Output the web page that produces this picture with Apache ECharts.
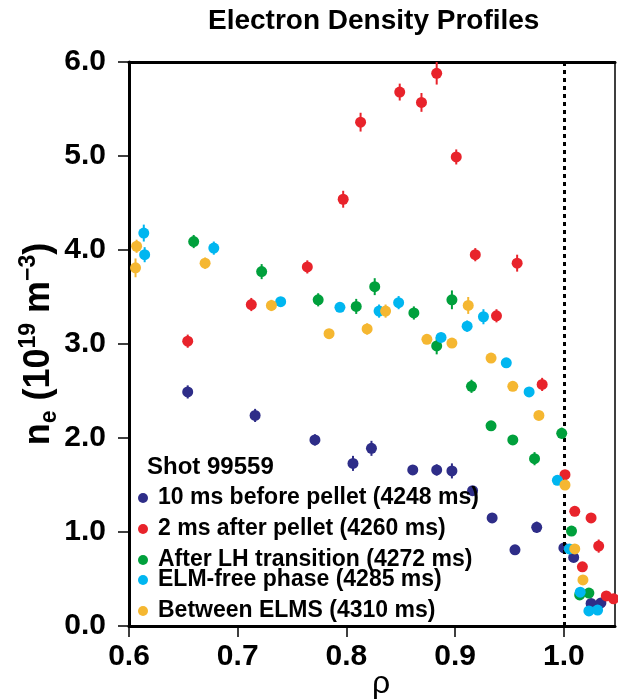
<!DOCTYPE html>
<html>
<head>
<meta charset="utf-8">
<script src="https://cdn.jsdelivr.net/npm/echarts@6/dist/echarts.min.js"></script>
<style>
html,body{margin:0;padding:0;background:#fff;overflow:hidden;}
#chart{width:618px;height:699px;}
</style>
</head>
<body>
<div id="chart"></div>
<script>
// ---- data ----
const titleText = 'Electron Density Profiles';
const shotLabel = 'Shot 99559';
const seriesNames = [
  '10 ms before pellet (4248 ms)',
  '2 ms after pellet (4260 ms)',
  'After LH transition (4272 ms)',
  'ELM-free phase (4285 ms)',
  'Between ELMS (4310 ms)'
];
const rhoTicks = [0.6, 0.7, 0.8, 0.9, 1.0];
const neTicks = [0, 1, 2, 3, 4, 5, 6];
const separatrixRho = 1.0;

// [rho, n_e, error]
const before4248 = [[0.654,2.49,0.07],[0.716,2.24,0.07],[0.771,1.98,0.06],[0.806,1.73,0.08],[0.823,1.89,0.08],[0.861,1.66,0.05],[0.883,1.66,0.06],[0.897,1.65,0.08],[0.916,1.44,0.04],[0.934,1.15,0.04],[0.955,0.81,0.04],[0.975,1.05,0.06],[1.000,0.83,0.04],[1.009,0.73,0.04],[1.025,0.24,0.04],[1.034,0.245,0.04]];
const after4260 = [[0.654,3.03,0.07],[0.7125,3.42,0.07],[0.764,3.82,0.07],[0.797,4.54,0.09],[0.813,5.36,0.1],[0.849,5.68,0.09],[0.869,5.57,0.1],[0.883,5.88,0.12],[0.901,4.99,0.08],[0.9185,3.95,0.07],[0.938,3.30,0.07],[0.957,3.86,0.09],[0.980,2.57,0.07],[1.001,1.61,0.05],[1.010,1.22,0.04],[1.025,1.15,0.04],[1.032,0.85,0.07],[1.017,0.63,0.04],[1.039,0.32,0.04],[1.0457,0.29,0.04]];
const lhTransition = [[0.6595,4.09,0.07],[0.722,3.77,0.08],[0.774,3.47,0.07],[0.809,3.40,0.08],[0.826,3.61,0.09],[0.862,3.33,0.07],[0.883,2.98,0.09],[0.897,3.47,0.1],[0.915,2.55,0.07],[0.933,2.13,0.05],[0.953,1.98,0.05],[0.973,1.78,0.07],[0.998,2.05,0.06],[1.007,1.01,0.04],[1.0145,0.33,0.03],[1.023,0.35,0.03]];
const elmFree = [[0.6136,4.18,0.09],[0.6144,3.95,0.08],[0.678,4.02,0.07],[0.7395,3.45,0.05],[0.794,3.39,0.05],[0.830,3.35,0.07],[0.848,3.44,0.07],[0.887,3.07,0.05],[0.911,3.19,0.06],[0.926,3.29,0.08],[0.947,2.80,0.04],[0.968,2.49,0.04],[0.994,1.55,0.04],[1.005,0.82,0.04],[1.015,0.36,0.03],[1.023,0.16,0.03],[1.031,0.17,0.03]];
const betweenElms = [[0.607,4.04,0.07],[0.606,3.81,0.1],[0.670,3.86,0.06],[0.731,3.41,0.06],[0.784,3.11,0.05],[0.819,3.16,0.06],[0.836,3.35,0.07],[0.874,3.05,0.05],[0.897,3.01,0.05],[0.912,3.41,0.09],[0.933,2.85,0.04],[0.953,2.55,0.04],[0.977,2.24,0.04],[1.001,1.50,0.04],[1.010,0.82,0.04],[1.0175,0.49,0.04]];

const allData = [before4248, after4260, lhTransition, elmFree, betweenElms];
const colors = ['#2e2d88', '#e8232b', '#00a03c', '#00b6f0', '#f5b731'];
const legendCenters = [498, 529, 560, 580, 611];

// ---- chart ----
const SANS = "'Liberation Sans', Arial, sans-serif";
const chart = echarts.init(document.getElementById('chart'), null, {renderer: 'canvas'});

const series = [];
allData.forEach((d, i) => {
  series.push({
    name: seriesNames[i] + ' err',
    type: 'custom',
    data: d,
    encode: {x: 0, y: 1},
    clip: true,
    z: 2 + i * 2,
    renderItem: function (params, api) {
      const x = api.value(0), y = api.value(1), e = api.value(2);
      const p1 = api.coord([x, y + e]);
      const p2 = api.coord([x, y - e]);
      return {type: 'line', shape: {x1: p1[0], y1: p1[1], x2: p2[0], y2: p2[1]},
        style: {stroke: colors[i], lineWidth: 2}};
    },
    silent: true
  });
  series.push({
    name: seriesNames[i],
    type: 'scatter',
    data: d.map(r => [r[0], r[1]]),
    symbol: 'circle',
    symbolSize: 11,
    itemStyle: {color: colors[i], opacity: 1},
    z: 3 + i * 2,
    clip: true,
    markLine: i === 0 ? {
      silent: true, symbol: 'none', label: {show: false},
      lineStyle: {color: '#000', type: [4, 4], width: 3},
      data: [{xAxis: separatrixRho}]
    } : undefined
  });
});

const legends = seriesNames.map((n, i) => ({
  data: [n],
  left: 138,
  top: legendCenters[i] - 13,
  icon: 'circle',
  itemWidth: 10,
  itemHeight: 10,
  padding: 0,
  selectedMode: false,
  textStyle: {fontSize: 23, fontWeight: 'bold', fontFamily: SANS, color: '#000', lineHeight: 26, padding: [0, 0, 0, 5]}
}));

chart.setOption({
  animation: false,
  backgroundColor: '#fff',
  title: [
    {text: titleText, left: 208, top: 7, padding: 0,
     textStyle: {fontSize: 28, fontWeight: 'bold', fontFamily: SANS, color: '#000'}},
    {text: shotLabel, left: 147, top: 454, padding: 0,
     textStyle: {fontSize: 24, fontWeight: 'bold', fontFamily: SANS, color: '#000', lineHeight: 26}}
  ],
  legend: legends,
  grid: {left: 129, right: 3, top: 62, bottom: 73, show: true, borderColor: '#000', borderWidth: 1.5,
    containLabel: false, outerBoundsMode: 'none'},
  xAxis: [{
    type: 'value', min: 0.6, max: 1.047, interval: 0.1, position: 'bottom',
    name: 'ρ', nameLocation: 'middle', nameGap: 42, nameMoveOverlap: false,
    nameTextStyle: {fontSize: 32, fontFamily: SANS, color: '#000', padding: [0, 0, 0, 18]},
    axisLine: {show: true, lineStyle: {color: '#000', width: 3}},
    axisTick: {show: true, inside: false, length: 11, lineStyle: {color: '#000', width: 1.5}, customValues: rhoTicks},
    axisLabel: {show: true, margin: 16, fontSize: 30, fontWeight: 'bold', fontFamily: SANS, color: '#000',
      customValues: rhoTicks, formatter: v => v.toFixed(1)},
    splitLine: {show: false}
  }, {
    type: 'value', min: 0.6, max: 1.047, position: 'top',
    axisLine: {show: true, onZero: false, lineStyle: {color: '#000', width: 3}},
    axisTick: {show: false}, axisLabel: {show: false}, splitLine: {show: false}
  }],
  yAxis: {
    type: 'value', min: 0, max: 6, interval: 1,
    name: '{n|n}{sub|e}{n| (10}{sup|19}{n| m}{sup|−3}{n|)}',
    nameLocation: 'middle', nameGap: 68, nameRotate: 90, nameMoveOverlap: false,
    nameTextStyle: {
      rich: {
        n: {fontSize: 36, fontWeight: 'bold', fontFamily: SANS, color: '#000', lineHeight: 44, verticalAlign: 'middle'},
        sub: {fontSize: 23, fontWeight: 'bold', fontFamily: SANS, color: '#000', lineHeight: 44, verticalAlign: 'bottom'},
        sup: {fontSize: 23, fontWeight: 'bold', fontFamily: SANS, color: '#000', lineHeight: 44, verticalAlign: 'top'}
      }
    },
    axisLine: {show: true, lineStyle: {color: '#000', width: 3}},
    axisTick: {show: true, inside: false, length: 11, lineStyle: {color: '#000', width: 1.5}},
    axisLabel: {show: true, margin: 23, fontSize: 30, fontWeight: 'bold', fontFamily: SANS, color: '#000',
      formatter: v => v.toFixed(1)},
    splitLine: {show: false}
  },
  series: series
});
</script>
</body>
</html>
